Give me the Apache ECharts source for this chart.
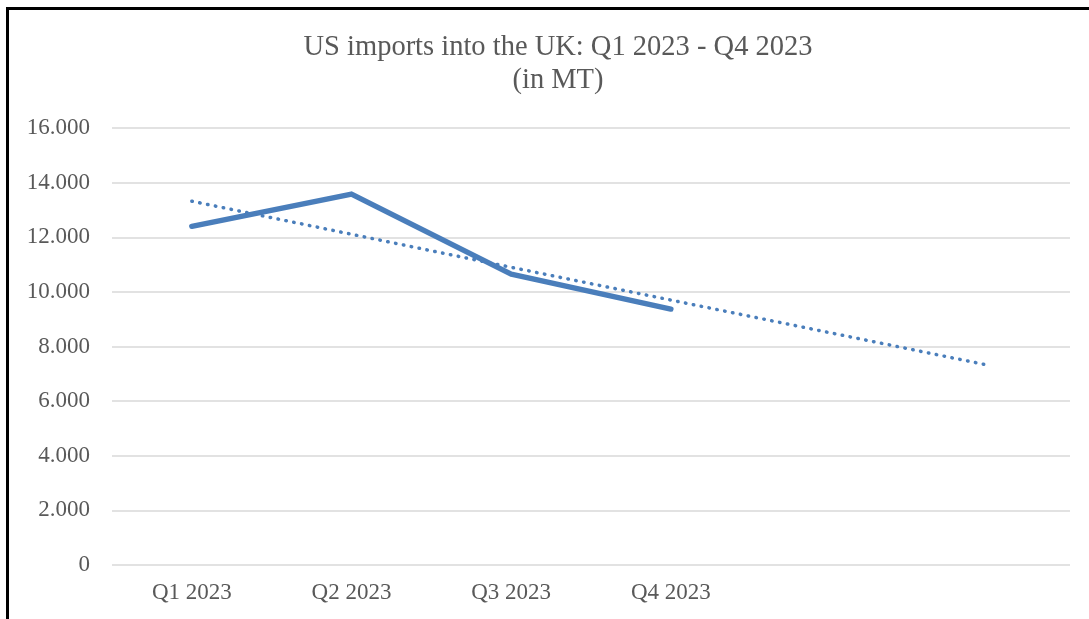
<!DOCTYPE html>
<html>
<head>
<meta charset="utf-8">
<script src="https://cdn.jsdelivr.net/npm/echarts@6/dist/echarts.min.js"></script>
<style>
    html, body { margin: 0; padding: 0; background: #fff; overflow: hidden; }
    #frame {
        position: absolute; left: 6px; top: 7px;
        width: 1200px; height: 700px;
        border-left: 3px solid #000; border-top: 3px solid #000;
    }
    #chart { position: absolute; left: 0; top: 0; width: 1089px; height: 619px; }
</style>
</head>
<body>
<div id="frame"></div>
<div id="chart"></div>
<script>
const categories = ['Q1 2023', 'Q2 2023', 'Q3 2023', 'Q4 2023', '', ''];
const imports = [12400, 13580, 10650, 9370, null, null];
const trend = [13320, 12110, 10900, 9700, 8500, 7300];
const yTicks = [0, 2000, 4000, 6000, 8000, 10000, 12000, 14000, 16000];

const fmt = (v) => v === 0 ? '0' : String(v).replace(/\B(?=(\d{3})+(?!\d))/g, '.');

const chart = echarts.init(document.getElementById('chart'));
chart.setOption({
    animation: false,
    textStyle: { fontFamily: 'Liberation Serif' },
    title: {
        text: 'US imports into the UK: Q1 2023 - Q4 2023\n(in MT)',
        left: 553,
        top: 26,
        textAlign: 'center',
        textStyle: {
            fontFamily: 'Liberation Serif',
            fontWeight: 'normal',
            fontSize: 28.5,
            lineHeight: 33,
            color: '#595959'
        }
    },
    grid: { left: 112, right: 19, top: 128, bottom: 54 },
    xAxis: {
        type: 'category',
        data: categories,
        boundaryGap: true,
        axisLine: { show: false },
        axisTick: { show: false },
        axisLabel: { color: '#595959', fontSize: 23, margin: 16, fontFamily: 'Liberation Serif' }
    },
    yAxis: {
        type: 'value',
        min: yTicks[0],
        max: yTicks[yTicks.length - 1],
        interval: 2000,
        axisLine: { show: false },
        axisTick: { show: false },
        axisLabel: {
            color: '#595959', fontSize: 23, margin: 22,
            fontFamily: 'Liberation Serif',
            formatter: fmt
        },
        splitLine: { lineStyle: { color: '#d9d9d9', width: 1.5 } }
    },
    series: [
        {
            name: 'Imports',
            type: 'line',
            data: imports,
            showSymbol: false,
            symbol: 'none',
            lineStyle: { color: '#4a7ebb', width: 5.5, cap: 'round', join: 'round' }
        },
        {
            name: 'Trend',
            type: 'line',
            data: trend,
            showSymbol: false,
            symbol: 'none',
            lineStyle: { color: '#4a7ebb', width: 3.5, type: [0.5, 7.5], cap: 'round' }
        }
    ]
});
</script>
</body>
</html>
